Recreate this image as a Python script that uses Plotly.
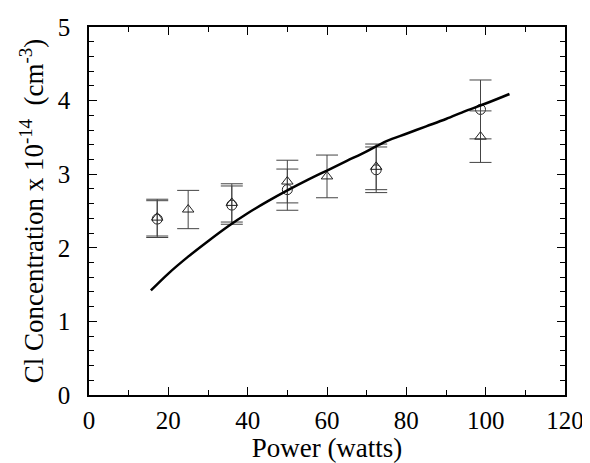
import plotly.graph_objects as go

# Model curve
curve_x = [15.6, 20, 25, 30, 35, 40, 45, 50, 55, 60, 65, 70, 75, 80, 85, 90, 95, 100, 106]
curve_y = [1.42, 1.65, 1.88, 2.09, 2.29, 2.47, 2.63, 2.78, 2.92, 3.05, 3.18, 3.31, 3.45, 3.55, 3.65, 3.75, 3.86, 3.96, 4.09]

# Circles
circ_x = [17.2, 36, 50, 72.4, 98.7]
circ_y = [2.39, 2.58, 2.79, 3.06, 3.88]
circ_err = [0.25, 0.26, 0.28, 0.31, 0.40]

# Triangles
tri_x = [17.2, 25, 36, 50, 60, 72.4, 98.7]
tri_y = [2.41, 2.52, 2.61, 2.90, 2.97, 3.10, 3.51]
tri_err = [0.25, 0.26, 0.26, 0.29, 0.29, 0.31, 0.35]

FONT = "Liberation Serif, Times New Roman, serif"

fig = go.Figure()
fig.add_trace(go.Scatter(
    x=circ_x, y=circ_y, mode="markers",
    marker=dict(symbol="circle-open", size=10, color="#222", line=dict(width=1)),
    error_y=dict(type="data", array=circ_err, color="#444", thickness=1, width=11),
    showlegend=False))
fig.add_trace(go.Scatter(
    x=tri_x, y=tri_y, mode="markers",
    marker=dict(symbol="triangle-up-open", size=10, color="#222", line=dict(width=1)),
    error_y=dict(type="data", array=tri_err, color="#444", thickness=1, width=11),
    showlegend=False))
fig.add_trace(go.Scatter(
    x=curve_x, y=curve_y, mode="lines",
    line=dict(color="black", width=2.5, shape="spline"),
    showlegend=False))

axis_common = dict(
    showline=True, linecolor="black", linewidth=1.5, mirror="ticks",
    ticks="inside", ticklen=8, tickwidth=1.2, tickcolor="black",
    showgrid=False, zeroline=False, automargin=False,
    tickfont=dict(family=FONT, size=25, color="black"),
)

fig.update_xaxes(
    range=[0, 120], dtick=20, tick0=0, ticklabelstandoff=2,
    minor=dict(ticks="inside", dtick=10, ticklen=5, tickcolor="black", tickwidth=1),
    title=dict(text="Power (watts)", font=dict(family=FONT, size=27, color="black"), standoff=2),
    **axis_common)
fig.update_yaxes(
    range=[0, 5], dtick=1, tick0=0, ticklabelstandoff=12,
    minor=dict(ticks="inside", dtick=0.2, ticklen=5, tickcolor="black", tickwidth=1),
    title=dict(text="Cl Concentration x 10<sup>-14</sup>  (cm<sup>-3</sup>)",
               font=dict(family=FONT, size=27, color="black"), standoff=6),
    **axis_common)

# page body has an 8px margin, so the figure is sized/offset to land on the reference frame
fig.update_layout(
    width=582, height=455,
    margin=dict(l=81, r=25, t=19, b=68),
    plot_bgcolor="white", paper_bgcolor="white",
    font=dict(family=FONT, color="black"),
)

fig.write_html("out.html")
